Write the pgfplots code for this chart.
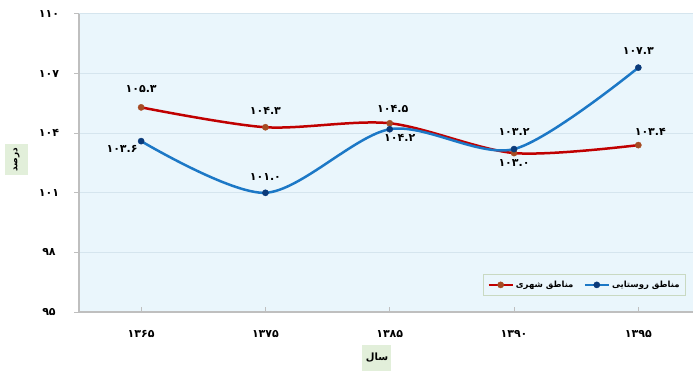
\documentclass[border=0pt]{standalone}
\usepackage{fontspec}
\usepackage{pgfplots}
\usepackage{pgfplotstable}
\pgfplotsset{compat=1.18}
\newfontfamily\fa[Script=Arabic]{DejaVu Sans}
\TeXXeTstate=1
\definecolor{bgblue}{HTML}{EAF6FC}
\definecolor{gridc}{HTML}{D5E5EE}
\definecolor{axc}{HTML}{BFBFBF}
\definecolor{redl}{HTML}{C00000}
\definecolor{redm}{HTML}{A64B23}
\definecolor{bluel}{HTML}{1C78C6}
\definecolor{bluem}{HTML}{0A3A7A}
\definecolor{lblgreen}{HTML}{E2EFDA}
\definecolor{legc}{HTML}{C9D9C2}

\pgfplotstableread{
x y lab
0 105.3 ۱۰۵.۳
1 104.3 ۱۰۴.۳
2 104.5 ۱۰۴.۵
3 103.0 ۱۰۳.۰
4 103.4 ۱۰۳.۴
}\urban

\pgfplotstableread{
x y lab
0 103.6 ۱۰۳.۶
1 101.0 ۱۰۱.۰
2 104.2 ۱۰۴.۲
3 103.2 ۱۰۳.۲
4 107.3 ۱۰۷.۳
}\rural

\pgfplotsset{
  lbls/.style={
    point meta=explicit symbolic,
    nodes near coords={\pgfplotspointmeta},
    every node near coord/.append style={font=\fa\bfseries\fontsize{11}{13}\selectfont, text=black},
  },
  redst/.style={smooth, color=redl, line width=2.5pt, mark=*, mark size=3.1pt, mark options={solid, fill=redm, draw=redm, line width=0.4pt}},
  bluest/.style={smooth, color=bluel, line width=2.5pt, mark=*, mark size=3.1pt, mark options={solid, fill=bluem, draw=bluem, line width=0.4pt}},
}

\begin{document}
\begin{tikzpicture}
\useasboundingbox (0,0) rectangle (693pt,372pt);
\begin{axis}[
  at={(79pt,60pt)}, anchor=south west,
  width=614pt, height=298pt, scale only axis,
  xmin=-0.5, xmax=4.44, ymin=95, ymax=110,
  axis x line*=bottom, axis y line*=left,
  axis line style={-, draw=axc, line width=1.3pt},
  axis background/.style={fill=bgblue},
  ymajorgrids, grid style={draw=gridc, line width=1pt},
  ytick={95,98,101,104,107,110},
  yticklabels={۹۵,۹۸,۱۰۱,۱۰۴,۱۰۷,۱۱۰},
  xtick={0,1,2,3,4},
  xticklabels={۱۳۶۵,۱۳۷۵,۱۳۸۵,۱۳۹۰,۱۳۹۵},
  tick align=inside, major tick length=5pt,
  tick style={draw=axc, line width=1pt},
  ytick style={xshift=-5pt},
  ticklabel style={font=\fa\bfseries\fontsize{11}{13}\selectfont, text=black},
  xticklabel style={anchor=center, yshift=-22pt},
  yticklabel style={anchor=center, xshift=-30pt},
  ylabel={\beginR درصد\endR},
  ylabel style={at={(axis description cs:-0.1018,0.5117)}, anchor=center, fill=lblgreen, minimum width=31pt, minimum height=23pt, inner sep=0pt, font=\fa\bfseries\fontsize{9}{11}\selectfont},
  xlabel={\beginR سال\endR},
  xlabel style={at={(axis description cs:0.4853,-0.154)}, anchor=center, fill=lblgreen, minimum width=29pt, minimum height=26pt, inner sep=0pt, font=\fa\bfseries\fontsize{10}{12}\selectfont},
  legend style={at={(rel axis cs:0.658,0.1275)}, anchor=north west, fill=bgblue, draw=legc, line width=0.8pt, font=\fa\bfseries\fontsize{8.5}{10}\selectfont, inner xsep=4pt, inner ysep=4.5pt},
  legend columns=2,
  legend cell align=left,
  /tikz/every even column/.append style={column sep=8pt},
  legend image code/.code={\draw[#1, mark repeat=2, mark phase=2] plot coordinates {(0pt,0pt) (12pt,0pt) (24pt,0pt)};},
]
\addlegendimage{redst}
\addlegendentry{\beginR مناطق شهری\endR}
\addlegendimage{bluest}
\addlegendentry{\beginR مناطق روستایی\endR}
\addplot[redst, lbls, forget plot,
  coordinate style/.condition={\coordindex==0}{anchor=south, yshift=11pt},
  coordinate style/.condition={\coordindex==1}{anchor=south, yshift=9pt},
  coordinate style/.condition={\coordindex==2}{anchor=south, xshift=3pt, yshift=7pt},
  coordinate style/.condition={\coordindex==3}{anchor=north, yshift=-3pt},
  coordinate style/.condition={\coordindex==4}{anchor=south, xshift=12pt, yshift=6pt},
] table[x=x, y=y, meta=lab]{\urban};
\addplot[bluest, lbls, forget plot,
  coordinate style/.condition={\coordindex==0}{anchor=east, yshift=-8pt},
  coordinate style/.condition={\coordindex==1}{anchor=south, yshift=9pt},
  coordinate style/.condition={\coordindex==2}{anchor=north, xshift=10pt, yshift=-2pt},
  coordinate style/.condition={\coordindex==3}{anchor=south, yshift=10pt},
  coordinate style/.condition={\coordindex==4}{anchor=south, yshift=10pt},
] table[x=x, y=y, meta=lab]{\rural};
\end{axis}
\end{tikzpicture}
\end{document}
